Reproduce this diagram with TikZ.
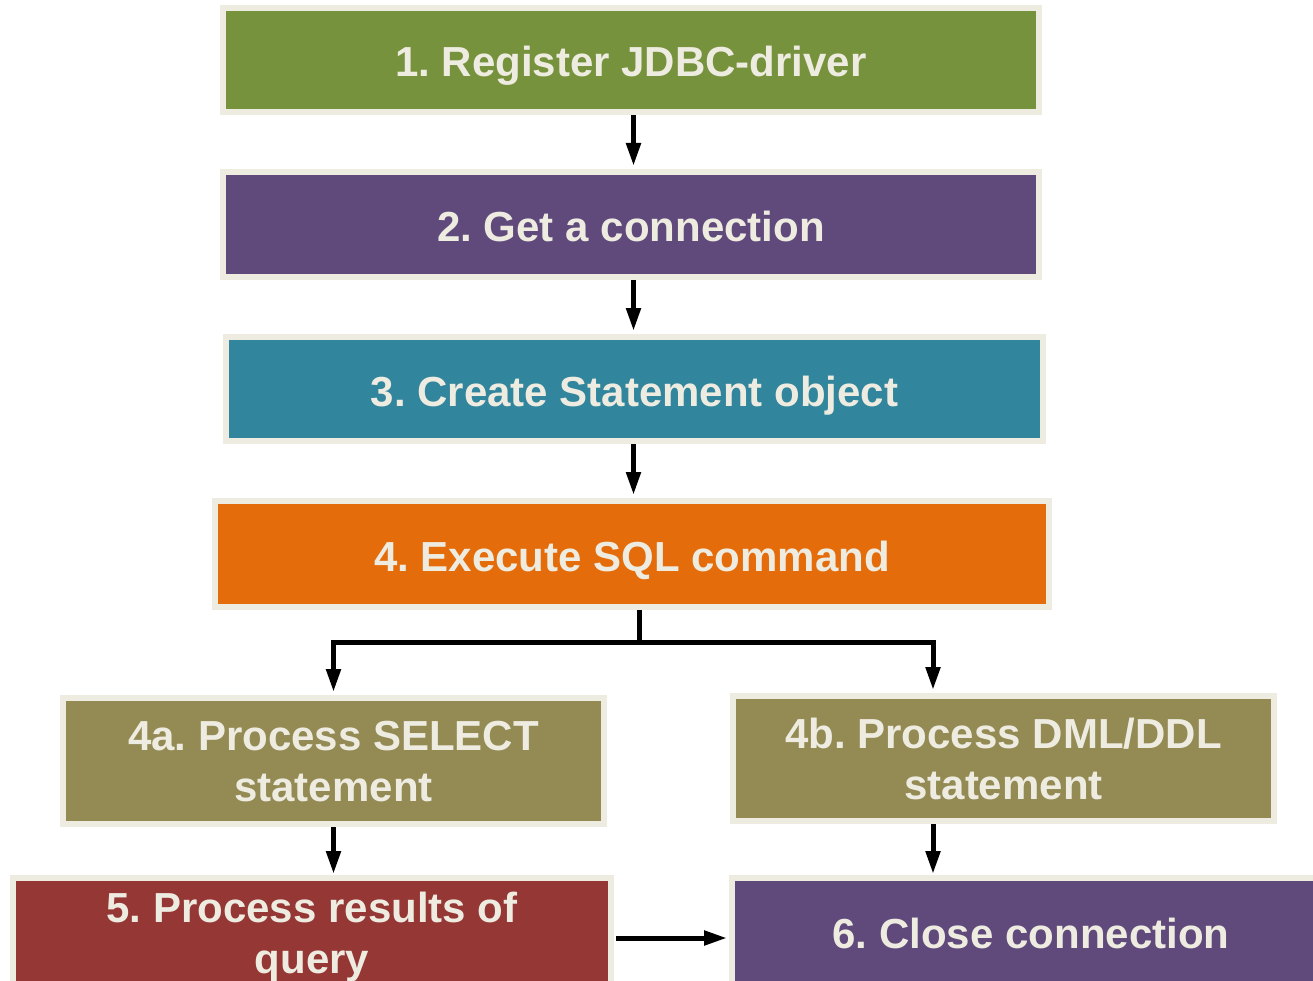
\documentclass[tikz,border=0pt]{standalone}
\usepackage{fontspec}
\setmainfont{Liberation Sans}
\frenchspacing
\usetikzlibrary{arrows.meta}
\definecolor{edge}{HTML}{EEECE1}
\definecolor{ink}{HTML}{EEECE1}
\definecolor{olive}{HTML}{77923C}
\definecolor{plum}{HTML}{604A7B}
\definecolor{teal}{HTML}{31859C}
\definecolor{amber}{HTML}{E46C0A}
\definecolor{khaki}{HTML}{948A54}
\definecolor{brick}{HTML}{953735}
\tikzset{
  stagebox/.style={draw=edge, line width=6pt, inner sep=0pt, outer sep=3pt,
    text=ink, align=center, font=\fontsize{42}{51}\selectfont\bfseries},
  oneline/.style={text height=34pt, text depth=0pt},
  twolines/.style={text depth=#1},
  flow/.style={line width=5pt, -{Triangle[length=23pt,width=14pt]}, shorten >=3pt},
}
\begin{document}
\begin{tikzpicture}[x=1pt,y=-1pt]
  \useasboundingbox (0,0) rectangle (1313,981);
  \clip (0,0) rectangle (1313,981);
  \fill[white] (0,0) rectangle (1313,981);

  % the stages, top to bottom
  \node[stagebox, oneline, fill=olive, minimum width=816pt, minimum height=104pt] (b1) at (631,60) {1. Register JDBC-driver};
  \node[stagebox, oneline, fill=plum,  minimum width=816pt, minimum height=105pt] (b2) at (631,224.5) {2. Get a connection};
  \node[stagebox, oneline, fill=teal,  minimum width=817pt, minimum height=104pt] (b3) at (634.5,389) {3. Create Statement object};
  \node[stagebox, oneline, fill=amber, minimum width=834pt, minimum height=106pt] (b4) at (632,554) {4. Execute SQL command};
  \node[stagebox, twolines=-6pt, fill=khaki, minimum width=541pt, minimum height=126pt] (b4a) at (333.5,761) {4a. Process SELECT\\statement};
  \node[stagebox, twolines=-5pt, fill=khaki, minimum width=541pt, minimum height=125pt] (b4b) at (1003.5,758.5) {4b. Process DML/DDL\\statement};
  \node[stagebox, twolines=3pt, fill=brick, minimum width=598pt, minimum height=112pt] (b5) at (312,934) {5. Process results of\\query};
  \node[stagebox, oneline, fill=plum,  minimum width=598pt, minimum height=106pt] (b6) at (1031,931) {6. Close connection};

  % guide coordinates for the connector lines
  \coordinate (spine) at (633.5,0);
  \coordinate (split) at (639,642);
  \coordinate (left)  at (333.5,0);
  \coordinate (right) at (933,0);
  \coordinate (level) at (0,938);

  % straight chain
  \draw[flow] (b1.south -| spine) -- (b2.north -| spine);
  \draw[flow] (b2.south -| spine) -- (b3.north -| spine);
  \draw[flow] (b3.south -| spine) -- (b4.north -| spine);

  % branching after the SQL command
  \draw[line width=5pt] (b4.south -| split) -- (split);
  \draw[flow, shorten >=3pt] (split) -| (b4a.north -| left);
  \draw[flow, shorten >=3pt] (split) -| (b4b.north -| right);

  % to the final stages
  \draw[flow, shorten >=1pt] (b4a.south -| left) -- (b5.north -| left);
  \draw[flow, shorten >=1pt] (b4b.south -| right) -- (b6.north -| right);
  \draw[flow, shorten >=2pt, shorten <=2pt] (b5.east |- level) -- (b6.west |- level);
\end{tikzpicture}
\end{document}
